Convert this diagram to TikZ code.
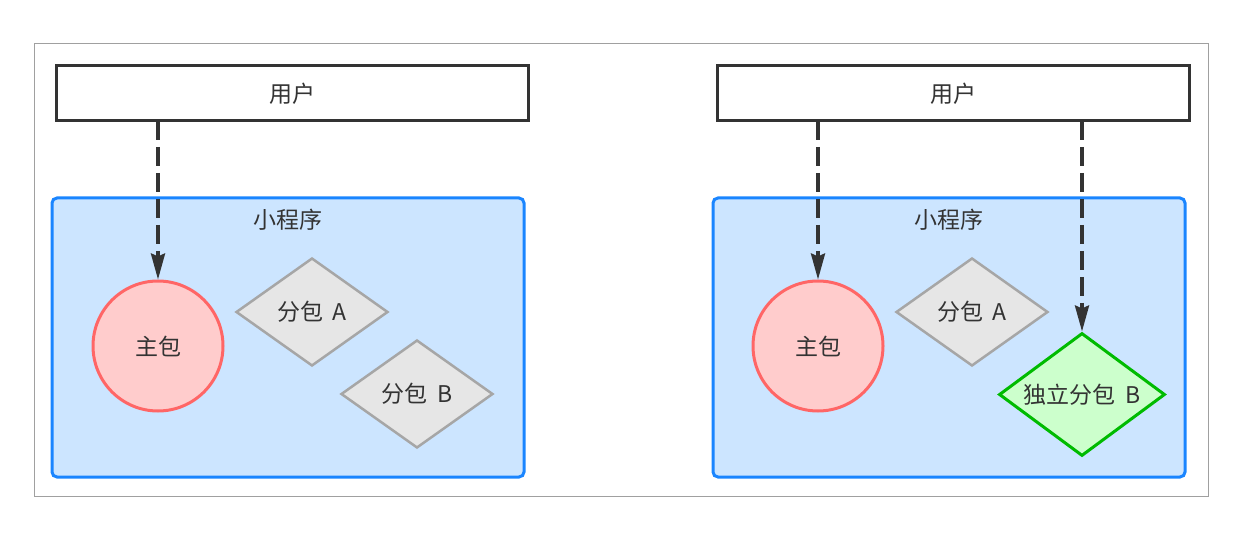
\documentclass[tikz,border=0pt]{standalone}
\usepackage{fontspec}
\setmainfont{Noto Sans CJK SC}
\usetikzlibrary{shapes.geometric,arrows.meta}
\definecolor{txt}{HTML}{333333}
\definecolor{boxline}{HTML}{333333}
\definecolor{blueline}{HTML}{1A85FF}
\definecolor{bluefill}{HTML}{CCE5FF}
\definecolor{redline}{HTML}{FF6666}
\definecolor{redfill}{HTML}{FFCCCC}
\definecolor{grayline}{HTML}{A6A6A6}
\definecolor{grayfill}{HTML}{E6E6E6}
\definecolor{greenline}{HTML}{00BB00}
\definecolor{greenfill}{HTML}{CCFFCC}
\definecolor{frameline}{HTML}{A0A0A0}
\newcommand{\gap}{\hspace{0.4em}}
\begin{document}
\begin{tikzpicture}[x=1pt,y=-1pt,
  every node/.style={font=\fontsize{23}{27}\selectfont, text=txt},
  userbox/.style={draw=boxline, line width=3pt, fill=white, minimum width=472pt, minimum height=55pt, inner sep=0pt},
  container/.style={draw=blueline, line width=3pt, fill=bluefill, rounded corners=5pt, minimum width=472pt, minimum height=279pt, inner sep=0pt},
  mainpkg/.style={circle, draw=redline, fill=redfill, line width=3pt, minimum size=130pt, inner sep=0pt},
  subpkg/.style={diamond, draw=grayline, fill=grayfill, line width=2.5pt, minimum width=152pt, minimum height=108pt, inner sep=0pt, aspect=1.4},
  indpkg/.style={diamond, draw=greenline, fill=greenfill, line width=3pt, minimum width=166pt, minimum height=123pt, inner sep=0pt, aspect=1.35},
  flow/.style={draw=boxline, line width=3.5pt, dash pattern=on 19pt off 7pt, -{Stealth[length=26pt,width=14pt,inset=3pt]}}
]
\useasboundingbox (0,0) rectangle (1250,534);
\node[draw=frameline, line width=1pt, minimum width=1174pt, minimum height=452pt, inner sep=0pt] (frame) at (621,270) {};

% left
\node[userbox] (u1) at (292,93.5) {用户};
\node[container] (c1) at (288,337.5) {};
\node (t1) at (288,220) {小程序};
\node[mainpkg] (m1) at (158,346) {主包};
\node[subpkg] (a1) at (312,312) {分包\gap A};
\node[subpkg] (b1) at (417,394) {分包\gap B};
\coordinate (s1) at (158,121);
\draw[flow] (s1) -- (m1.north);

% right
\node[userbox] (u2) at (953,93.5) {用户};
\node[container] (c2) at (949,337.5) {};
\node (t2) at (949,220) {小程序};
\node[mainpkg] (m2) at (818,346) {主包};
\node[subpkg] (a2) at (972,312) {分包\gap A};
\node[indpkg] (b2) at (1082,394.5) {独立分包\gap B};
\coordinate (s2) at (818,121);
\coordinate (s3) at (1082,121);
\draw[flow] (s2) -- (m2.north);
\draw[flow] (s3) -- (b2.north);
\end{tikzpicture}
\end{document}
